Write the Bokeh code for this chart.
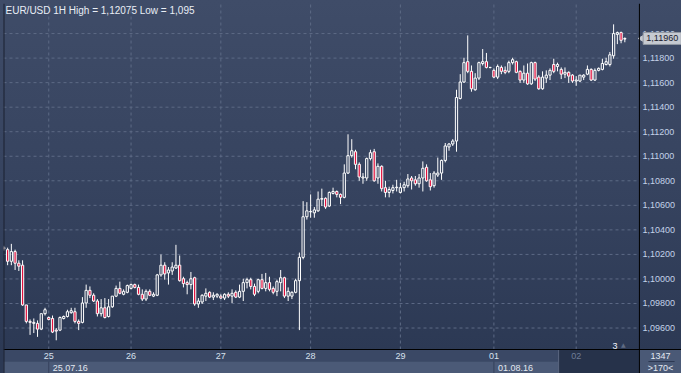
import numpy as np
from bokeh.plotting import figure
from bokeh.models import Grid, BoxAnnotation, Range1d, Span
from bokeh.embed import file_html
from bokeh.resources import INLINE
from bokeh.core.properties import value

# ---------------- data (EUR/USD, 1H candles) ----------------
open_ = [1.10255, 1.10239, 1.10144, 1.10223, 1.10128, 1.10112, 1.09788, 1.09654, 1.09638, 1.09638,
         1.09591, 1.09717, 1.09686, 1.09678, 1.09583, 1.09583, 1.09678, 1.09694, 1.09725, 1.09733,
         1.09654, 1.09646, 1.09804, 1.09907, 1.09867, 1.09820, 1.09717, 1.09765, 1.09694, 1.09773,
         1.09860, 1.09923, 1.09875, 1.09891, 1.09923, 1.09954, 1.09931, 1.09875, 1.09836, 1.09899,
         1.09860, 1.09867, 1.10033, 1.10112, 1.10049, 1.10065, 1.10089, 1.10112, 1.10002, 1.09970,
         1.09954, 1.10010, 1.09796, 1.09812, 1.09860, 1.09891, 1.09852, 1.09860, 1.09860, 1.09844,
         1.09875, 1.09860, 1.09891, 1.09852, 1.09899, 1.09970, 1.09994, 1.09939, 1.09899, 1.09994,
         1.09923, 1.09970, 1.09923, 1.09899, 1.09970, 1.10010, 1.09860, 1.09860, 1.09891, 1.09986,
         1.10176, 1.10507, 1.10547, 1.10539, 1.10555, 1.10650, 1.10657, 1.10594, 1.10697, 1.10713,
         1.10689, 1.10665, 1.10863, 1.11005, 1.11037, 1.10934, 1.10823, 1.10823, 1.10981, 1.11037,
         1.10823, 1.10918, 1.10744, 1.10705, 1.10721, 1.10744, 1.10705, 1.10744, 1.10760, 1.10823,
         1.10808, 1.10776, 1.10823, 1.10910, 1.10808, 1.10760, 1.10847, 1.10863, 1.10966, 1.11076,
         1.11100, 1.11124, 1.11471, 1.11605, 1.11771, 1.11692, 1.11542, 1.11637, 1.11756, 1.11771,
         1.11724, 1.11700, 1.11645, 1.11724, 1.11700, 1.11692, 1.11763, 1.11771, 1.11692, 1.11621,
         1.11677, 1.11590, 1.11763, 1.11645, 1.11550, 1.11637, 1.11661, 1.11748, 1.11732, 1.11708,
         1.11669, 1.11684, 1.11661, 1.11613, 1.11613, 1.11645, 1.11669, 1.11708, 1.11621, 1.11700,
         1.11708, 1.11748, 1.11748, 1.11819, 1.11993, 1.12008, 1.11955]
high = [1.10270, 1.10255, 1.10286, 1.10239, 1.10152, 1.10152, 1.09788, 1.09670, 1.09678, 1.09662,
        1.09717, 1.09765, 1.09694, 1.09702, 1.09600, 1.09694, 1.09702, 1.09749, 1.09765, 1.09765,
        1.09670, 1.09852, 1.09954, 1.09939, 1.09883, 1.09836, 1.09836, 1.09844, 1.09836, 1.09860,
        1.09946, 1.09978, 1.09915, 1.09954, 1.09962, 1.09962, 1.09954, 1.09915, 1.09915, 1.09915,
        1.09891, 1.10041, 1.10199, 1.10136, 1.10097, 1.10136, 1.10278, 1.10191, 1.10018, 1.09986,
        1.10057, 1.10018, 1.09844, 1.09875, 1.09923, 1.09899, 1.09891, 1.09883, 1.09875, 1.09883,
        1.09891, 1.09915, 1.09907, 1.09954, 1.10002, 1.10010, 1.10010, 1.09962, 1.10002, 1.10041,
        1.10049, 1.10018, 1.09939, 1.09994, 1.10073, 1.10018, 1.09931, 1.09899, 1.10002, 1.10215,
        1.10634, 1.10626, 1.10689, 1.10586, 1.10713, 1.10736, 1.10665, 1.10713, 1.10744, 1.10721,
        1.10697, 1.10934, 1.11179, 1.11139, 1.11053, 1.10950, 1.10863, 1.10989, 1.11053, 1.11060,
        1.10942, 1.10926, 1.10800, 1.10752, 1.10768, 1.10808, 1.10784, 1.10792, 1.10855, 1.10839,
        1.10839, 1.10855, 1.10958, 1.10934, 1.10863, 1.10879, 1.10989, 1.10973, 1.11108, 1.11108,
        1.11139, 1.11542, 1.11669, 1.11803, 1.11985, 1.11740, 1.11677, 1.11771, 1.11874, 1.11842,
        1.11728, 1.11716, 1.11748, 1.11740, 1.11732, 1.11779, 1.11803, 1.11779, 1.11700, 1.11740,
        1.11756, 1.11771, 1.11771, 1.11661, 1.11692, 1.11700, 1.11716, 1.11795, 1.11763, 1.11724,
        1.11724, 1.11692, 1.11669, 1.11653, 1.11661, 1.11669, 1.11740, 1.11716, 1.11716, 1.11724,
        1.11795, 1.11803, 1.11850, 1.12075, 1.12016, 1.12016, 1.11969]
low = [1.10231, 1.10112, 1.10112, 1.10073, 1.10065, 1.09781, 1.09638, 1.09544, 1.09559, 1.09528,
       1.09583, 1.09702, 1.09662, 1.09559, 1.09500, 1.09575, 1.09670, 1.09686, 1.09717, 1.09638,
       1.09583, 1.09638, 1.09765, 1.09844, 1.09812, 1.09694, 1.09694, 1.09678, 1.09686, 1.09765,
       1.09852, 1.09875, 1.09867, 1.09883, 1.09915, 1.09923, 1.09867, 1.09820, 1.09820, 1.09860,
       1.09852, 1.09860, 1.10018, 1.09994, 1.09954, 1.10033, 1.10081, 1.09978, 1.09931, 1.09875,
       1.09915, 1.09781, 1.09765, 1.09796, 1.09820, 1.09844, 1.09828, 1.09844, 1.09836, 1.09828,
       1.09844, 1.09804, 1.09844, 1.09844, 1.09820, 1.09923, 1.09915, 1.09860, 1.09883, 1.09915,
       1.09899, 1.09899, 1.09875, 1.09860, 1.09899, 1.09844, 1.09820, 1.09836, 1.09883, 1.09583,
       1.10160, 1.10484, 1.10499, 1.10499, 1.10547, 1.10594, 1.10571, 1.10586, 1.10689, 1.10665,
       1.10610, 1.10657, 1.10855, 1.10989, 1.10894, 1.10800, 1.10776, 1.10800, 1.10966, 1.10792,
       1.10776, 1.10713, 1.10665, 1.10665, 1.10697, 1.10713, 1.10697, 1.10713, 1.10744, 1.10729,
       1.10760, 1.10744, 1.10713, 1.10792, 1.10721, 1.10744, 1.10831, 1.10808, 1.10950, 1.11045,
       1.11084, 1.11037, 1.11463, 1.11598, 1.11677, 1.11526, 1.11534, 1.11621, 1.11740, 1.11716,
       1.11716, 1.11637, 1.11629, 1.11669, 1.11669, 1.11677, 1.11748, 1.11677, 1.11598, 1.11598,
       1.11582, 1.11582, 1.11613, 1.11542, 1.11542, 1.11598, 1.11621, 1.11677, 1.11692, 1.11629,
       1.11637, 1.11598, 1.11598, 1.11574, 1.11605, 1.11621, 1.11661, 1.11613, 1.11613, 1.11692,
       1.11700, 1.11740, 1.11732, 1.11795, 1.11914, 1.11921, 1.11929]
close = [1.10247, 1.10144, 1.10223, 1.10128, 1.10104, 1.09788, 1.09654, 1.09646, 1.09646, 1.09591,
         1.09717, 1.09749, 1.09670, 1.09567, 1.09575, 1.09686, 1.09694, 1.09733, 1.09741, 1.09654,
         1.09638, 1.09804, 1.09907, 1.09867, 1.09820, 1.09717, 1.09765, 1.09686, 1.09773, 1.09860,
         1.09923, 1.09883, 1.09899, 1.09946, 1.09954, 1.09931, 1.09875, 1.09836, 1.09899, 1.09867,
         1.09875, 1.10033, 1.10112, 1.10041, 1.10073, 1.10097, 1.10112, 1.09986, 1.09962, 1.09954,
         1.10002, 1.09796, 1.09820, 1.09867, 1.09883, 1.09852, 1.09867, 1.09875, 1.09844, 1.09875,
         1.09860, 1.09883, 1.09852, 1.09899, 1.09970, 1.09994, 1.09939, 1.09875, 1.09994, 1.09923,
         1.09970, 1.09915, 1.09891, 1.09978, 1.10010, 1.09860, 1.09899, 1.09891, 1.09986, 1.10176,
         1.10507, 1.10555, 1.10550, 1.10563, 1.10650, 1.10655, 1.10586, 1.10705, 1.10713, 1.10689,
         1.10665, 1.10863, 1.11005, 1.11045, 1.10934, 1.10831, 1.10831, 1.10981, 1.11029, 1.10800,
         1.10918, 1.10736, 1.10705, 1.10729, 1.10744, 1.10748, 1.10744, 1.10768, 1.10815, 1.10800,
         1.10776, 1.10823, 1.10902, 1.10800, 1.10752, 1.10863, 1.10863, 1.10966, 1.11084, 1.11100,
         1.11124, 1.11479, 1.11605, 1.11763, 1.11692, 1.11550, 1.11637, 1.11763, 1.11771, 1.11724,
         1.11724, 1.11645, 1.11732, 1.11692, 1.11684, 1.11763, 1.11787, 1.11684, 1.11621, 1.11677,
         1.11590, 1.11763, 1.11629, 1.11550, 1.11645, 1.11661, 1.11700, 1.11692, 1.11748, 1.11669,
         1.11684, 1.11653, 1.11613, 1.11621, 1.11661, 1.11661, 1.11708, 1.11621, 1.11700, 1.11716,
         1.11756, 1.11771, 1.11827, 1.12000, 1.12008, 1.11945, 1.11960]

day_idx = [12, 34, 58, 82, 106, 131, 153]
day_labels = ["25", "26", "27", "28", "29", "01", "02"]
date_idx = [12, 131]
date_labels = ["25.07.16", "01.08.16"]
y_ticks = [1.096, 1.098, 1.100, 1.102, 1.104, 1.106, 1.108, 1.110,
           1.112, 1.114, 1.116, 1.118, 1.120]
y_labels = ["1,09600", "1,09800", "1,10000", "1,10200", "1,10400", "1,10600", "1,10800",
            "1,11000", "1,11200", "1,11400", "1,11600", "1,11800", "1,12000"]
title_text = "EUR/USD 1H High = 1,12075 Low = 1,095"
last_price = 1.11960
last_label = "1,11960"
bars_count = "1347"
bars_visible = ">170<"
marker_text = "3"
marker_idx = 163.4
current_day_start = 148.3

# ---------------- derived ----------------
o = np.array(open_); h = np.array(high); l = np.array(low); c = np.array(close)
idx = np.arange(len(o))
top = np.maximum(o, c)
bot = np.minimum(o, c)
up = c >= o
dn = ~up

FONT = value("Liberation Sans")
X0, X1 = -0.1, 169.9          # candle area
XR = X1 + 11.25               # includes price-scale column
Y0, Y1 = 1.09425, 1.12245     # price area
PRICE_H = 346                 # px of the price area
STRIP_H = 24                  # px of the time strip
ppu = PRICE_H / (Y1 - Y0)     # px per price unit
YS = Y0 - STRIP_H / ppu       # bottom of the time strip
YM = Y0 - (STRIP_H / 2) / ppu # middle line of the strip

p = figure(frame_width=678, frame_height=PRICE_H + STRIP_H,
           x_range=Range1d(X0, XR), y_range=Range1d(YS, Y1),
           output_backend="svg", toolbar_location=None,
           x_axis_location=None, y_axis_location=None,
           min_border_left=3, min_border_top=3, min_border_bottom=0, min_border_right=0)
p.background_fill_alpha = 0
p.border_fill_alpha = 0
p.styles = {"background": "linear-gradient(to bottom, #3f4c68 0%, #36435f 50%, #2c3954 94%, #2c3954 100%)"}
p.outline_line_color = None
for g in list(p.center):
    if isinstance(g, Grid):
        g.visible = False

# ---------------- time strip backgrounds (below everything) ----------------
box_kw = dict(fill_alpha=1, line_color=None, level="underlay")
p.add_layout(BoxAnnotation(bottom=YM, top=Y0, fill_color="#3a4865", **box_kw))
p.add_layout(BoxAnnotation(bottom=YS, top=YM, right=current_day_start,
                           fill_color="#4b5a77", **box_kw))
p.add_layout(BoxAnnotation(bottom=YS, top=Y0, left=current_day_start, right=X1,
                           fill_color="#26324a", **box_kw))
p.add_layout(BoxAnnotation(bottom=YS, top=Y0, left=X1, fill_color="#4a5976", **box_kw))

# grid
grid_kw = dict(line_color="#5d6a85", line_dash="3 3", line_width=1)
p.segment(x0=[X0] * len(y_ticks), y0=y_ticks, x1=[X1] * len(y_ticks), y1=y_ticks, **grid_kw)
p.segment(x0=day_idx, y0=[Y0] * len(day_idx), x1=day_idx, y1=[Y1] * len(day_idx), **grid_kw)

# price scale labels
p.text(x=[X1] * len(y_ticks), y=y_ticks, text=y_labels, x_offset=3,
       text_align="left", text_baseline="middle", text_color="#c3d2e8",
       text_font=FONT, text_font_size="9px")

# candles: wicks then bodies
p.segment(x0=idx, y0=top, x1=idx, y1=h, line_color="white", line_width=1)
p.segment(x0=idx, y0=bot, x1=idx, y1=l, line_color="white", line_width=1)
p.vbar(x=idx[up], width=0.6, top=c[up], bottom=o[up], fill_alpha=0,
       line_color="white", line_width=1)
p.vbar(x=idx[dn], width=0.6, top=o[dn], bottom=c[dn], fill_color="#e3103d",
       line_color="white", line_width=1)

# title and marker
p.text(x=[X0], y=[Y1], text=[title_text], x_offset=2, y_offset=1,
       text_baseline="top", text_align="left", text_color="#e9eef6",
       text_font=FONT, text_font_size="10px")
p.text(x=[marker_idx], y=[Y0], text=[marker_text], y_offset=-1, text_baseline="bottom",
       text_align="center", text_color="#f0f4fa", text_font=FONT, text_font_size="9px")
p.text(x=[marker_idx + 2.2], y=[Y0], text=["\u25b2"], y_offset=-2, text_baseline="bottom",
       text_align="center", text_color="#5f6b83", text_font=value("DejaVu Sans"),
       text_font_size="6px")

# last price tag
p.scatter(x=[X1 + 0.9], y=[last_price], marker="triangle", angle=np.pi / 2, size=8,
          fill_color="#c6cad1", line_color="#c6cad1")
p.rect(x=[X1 + 6.1], y=[last_price], width=10.2, height=12, height_units="screen",
       fill_color="#c6cad1", line_color="#9097a1")
p.text(x=[X1 + 6.1], y=[last_price], text=[last_label], text_align="center",
       text_baseline="middle", text_color="#18202e", text_font=FONT, text_font_size="9px")

# ---------------- time strip content ----------------
p.segment(x0=[current_day_start], y0=[YS], x1=[current_day_start], y1=[Y0],
          line_color="#5b6780", line_width=1)
p.segment(x0=date_idx, y0=[YS] * len(date_idx), x1=date_idx, y1=[YM] * len(date_idx),
          line_color="#34415b", line_width=1)
p.segment(x0=[X1 + 2.4], y0=[YM], x1=[X1 + 9.4], y1=[YM], line_color="#2c3852", line_width=1)
p.add_layout(Span(location=Y0, dimension="width", line_color="black", line_width=1))
p.add_layout(Span(location=X1, dimension="height", line_color="black", line_width=1))
p.add_layout(Span(location=X0, dimension="height", line_color="#1a2130", line_width=2))

ym_day = (Y0 + YM) / 2
ym_date = (YM + YS) / 2
p.text(x=day_idx[:-1], y=[ym_day] * (len(day_idx) - 1), text=day_labels[:-1],
       text_align="center", text_baseline="middle", text_color="#d8e1ee",
       text_font=FONT, text_font_size="9px")
p.text(x=day_idx[-1:], y=[ym_day], text=day_labels[-1:],
       text_align="center", text_baseline="middle", text_color="#6f7d97",
       text_font=FONT, text_font_size="9px")
p.text(x=date_idx, y=[ym_date] * len(date_idx), text=date_labels, x_offset=4,
       text_align="left", text_baseline="middle", text_color="#e2e8f1",
       text_font=FONT, text_font_size="9px")
p.text(x=[X1, X1], y=[ym_day, ym_date], text=[bars_count, bars_visible], x_offset=21,
       text_align="center", text_baseline="middle", text_color="#e2e8f1",
       text_font=FONT, text_font_size="9px")

open("out.html", "w").write(file_html(p, INLINE))
